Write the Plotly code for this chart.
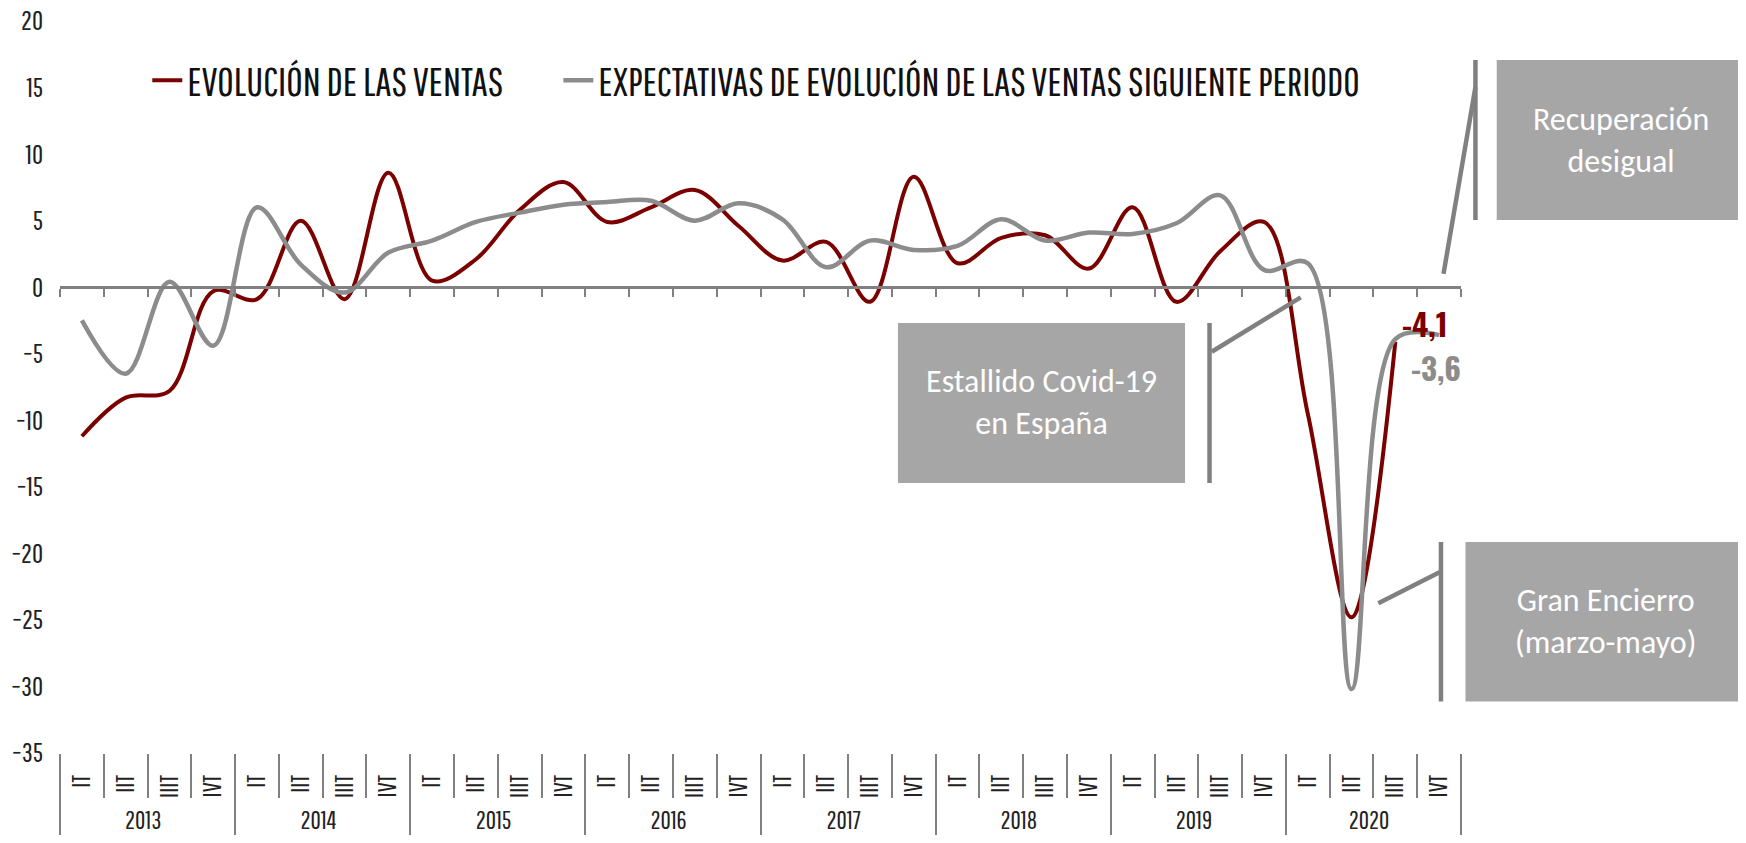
import plotly.graph_objects as go

years = ["2013", "2014", "2015", "2016", "2017", "2018", "2019", "2020"]
quarters = ["IT", "IIT", "IIIT", "IVT"]

ventas = [-11.2, -8.3, -7.8, -0.3, -0.9, 5.0, -0.9, 8.6,
          0.5, 2.1, 5.8, 7.9, 4.9, 6.0, 7.3, 4.6,
          2.0, 3.4, -1.1, 8.3, 1.8, 3.7, 3.9, 1.4,
          6.0, -1.1, 2.7, 4.9, -9.5, -24.8, -4.1]
expectativas = [-2.5, -6.5, 0.4, -4.4, 6.0, 1.7, -0.4, 2.6,
                3.5, 4.9, 5.6, 6.2, 6.4, 6.5, 5.0, 6.3,
                5.1, 1.5, 3.5, 2.8, 3.1, 5.1, 3.5, 4.1,
                4.0, 4.8, 6.9, 1.3, 1.8, -30.2, -3.9, -3.6]

name_ventas = "EVOLUCIÓN DE LAS VENTAS"
name_expect = "EXPECTATIVAS DE EVOLUCIÓN DE LAS VENTAS SIGUIENTE PERIODO"
y_ticks = [-35, -30, -25, -20, -15, -10, -5, 0, 5, 10, 15, 20]

box_texts = ["Estallido Covid-19<br>en España",
             "Recuperación<br>desigual",
             "Gran Encierro<br>(marzo-mayo)"]

RED = "#7b0000"
GRAY = "#8c8c8c"
LINEGRAY = "#808080"
BOXGRAY = "#a6a6a6"
NARROW = "Pathway Gothic One, Liberation Sans Narrow, DejaVu Sans Condensed, sans-serif"
BOLDNARROW = "Oswald, Antonio, Liberation Sans Narrow, DejaVu Sans Condensed, sans-serif"
BOXFONT = "Carlito, Lato, Open Sans, sans-serif"

x_year = [y for y in years for _ in quarters]
x_q = [q for _ in years for q in quarters]
n = len(x_q)

fig = go.Figure()
fig.add_trace(go.Scatter(
    x=[x_year[:len(ventas)], x_q[:len(ventas)]], y=ventas, name=name_ventas,
    legend="legend",
    mode="lines", line=dict(color=RED, width=4, shape="spline", smoothing=1.0)))
fig.add_trace(go.Scatter(
    x=[x_year[:len(expectativas)], x_q[:len(expectativas)]], y=expectativas, name=name_expect,
    legend="legend2",
    mode="lines", line=dict(color=GRAY, width=4.5, shape="spline", smoothing=1.0)))

legend_common = dict(orientation="h", xanchor="left", yanchor="middle",
                     font=dict(family=NARROW, size=40, color="#111"),
                     bgcolor="rgba(0,0,0,0)", itemwidth=30)

fig.update_layout(
    width=1738, height=835,
    margin=dict(l=52, r=285, t=13, b=90),
    paper_bgcolor="white", plot_bgcolor="white",
    showlegend=True,
    legend=dict(x=0.0623, y=0.919, **legend_common),
    legend2=dict(x=0.3557, y=0.919, **legend_common),
    xaxis=dict(type="multicategory", range=[-0.5, n - 0.5], tickangle=-90,
               tickson="boundaries", ticks="outside", ticklen=44, tickwidth=2,
               tickcolor=LINEGRAY, showdividers=True, dividercolor=LINEGRAY,
               dividerwidth=2, showline=False, showgrid=False, zeroline=False,
               automargin=False, ticklabelstandoff=16,
               tickfont=dict(family=NARROW, size=25, color="#222")),
    xaxis2=dict(overlaying="x", anchor="free", position=35 / 55, range=[-0.5, n - 0.5],
                type="linear", tick0=-0.5, dtick=1, ticks="outside", ticklen=8,
                tickwidth=2, tickcolor=LINEGRAY, showline=True, linecolor=LINEGRAY,
                linewidth=3, showticklabels=False, showgrid=False, zeroline=False,
                side="bottom", automargin=False),
    yaxis=dict(range=[-35, 20], tickvals=y_ticks, showgrid=False, zeroline=False,
               showline=False, ticks="", ticklabelstandoff=16, automargin=False,
               ticklabeloverflow="allow",
               tickfont=dict(family=NARROW, size=27, color="#222")),
)

# value labels at series ends
fig.add_annotation(xref="x2", yref="y", x=len(ventas) - 1, y=ventas[-1],
                   text="<b>" + f"{ventas[-1]:.1f}".replace(".", ",") + "</b>",
                   showarrow=False, xshift=30, yshift=19,
                   font=dict(family=BOLDNARROW, size=31, color=RED))
fig.add_annotation(xref="x2", yref="y", x=len(expectativas) - 1, y=expectativas[-1],
                   text="<b>" + f"{expectativas[-1]:.1f}".replace(".", ",") + "</b>",
                   showarrow=False, xshift=-3, yshift=-32,
                   font=dict(family=BOLDNARROW, size=31, color=GRAY))

# callout boxes (paper coordinates)
boxes = [
    dict(x0=0.5981, x1=0.8030, y0=0.3689, y1=0.5874),
    dict(x0=1.0255, x1=1.2034, y0=0.7281, y1=0.9467),
    dict(x0=1.0032, x1=1.2034, y0=0.0704, y1=0.2883),
]
for b, t in zip(boxes, box_texts):
    fig.add_shape(type="rect", xref="paper", yref="paper", x0=b["x0"], x1=b["x1"],
                  y0=b["y0"], y1=b["y1"], fillcolor=BOXGRAY, line=dict(width=0), layer="above")
    fig.add_annotation(xref="paper", yref="paper", x=(b["x0"] + b["x1"]) / 2,
                       y=(b["y0"] + b["y1"]) / 2, xanchor="center", yanchor="middle",
                       text=t, showarrow=False,
                       font=dict(family=BOXFONT, size=32, color="white"),
                       align="center")

# bracket lines
brackets = [
    (0.8205, 0.3689, 0.8205, 0.5874), (0.8221, 0.5482, 0.8856, 0.6225),
    (1.0103, 0.7281, 1.0103, 0.9467), (0.9875, 0.6544, 1.0103, 0.9098),
    (0.9857, 0.0704, 0.9857, 0.2883), (0.9410, 0.2045, 0.9854, 0.2477),
]
for x0, y0, x1, y1 in brackets:
    fig.add_shape(type="line", xref="paper", yref="paper", x0=x0, y0=y0, x1=x1, y1=y1,
                  line=dict(color=LINEGRAY, width=4.5), layer="above")

fig.write_html("out.html")
